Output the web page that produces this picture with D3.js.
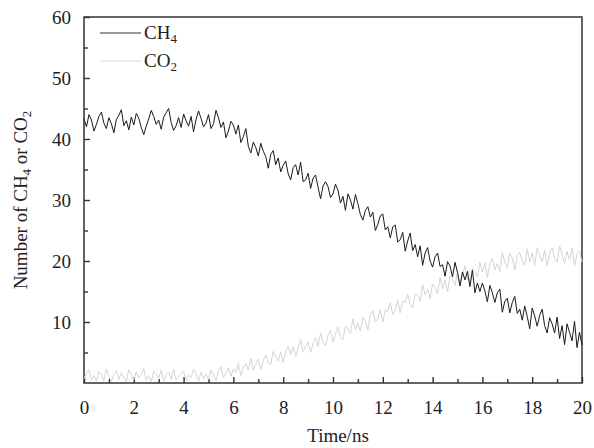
<!DOCTYPE html>
<html>
<head>
<meta charset="utf-8">
<script src="https://cdn.jsdelivr.net/npm/d3@7"></script>
<style>
  body { margin: 0; background: #fff; }
  text { font-family: "Liberation Serif", "Times New Roman", serif; fill: #222; }
</style>
</head>
<body>
<script>
// CH4 / CO2 number vs time, one value every 0.1 ns (0 .. 20 ns)
var step = 0.1;
var ch4 = [
  43.3, 42.0, 44.0, 43.1, 41.3, 42.4, 43.7, 44.4, 42.6, 41.7,
  43.5, 42.5, 41.0, 43.2, 43.9, 44.8, 42.2, 43.0, 41.5, 43.6,
  42.3, 44.2, 43.4, 41.9, 40.7, 42.1, 43.3, 44.7, 43.7, 42.4,
  43.1, 41.6, 43.6, 44.3, 45.0, 42.7, 41.4, 42.2, 43.5, 41.9,
  44.1, 43.0, 42.1, 43.7, 41.2, 43.2, 44.6, 43.4, 42.0, 42.6,
  44.0, 41.7, 42.5, 44.7, 43.5, 41.9, 42.8, 40.2, 41.3, 42.9,
  42.3, 40.8, 42.3, 39.4, 40.4, 41.7, 38.8, 37.7, 39.5, 38.6,
  37.2, 39.3, 38.0, 37.1, 35.2, 37.5, 38.1, 35.8, 36.9, 34.6,
  35.7, 36.4, 34.3, 33.3, 35.3, 35.8, 34.1, 36.2, 33.0, 33.3,
  34.4, 31.9, 33.6, 34.1, 32.1, 30.2, 32.3, 33.0, 32.2, 30.4,
  31.0, 32.6, 31.6, 29.5, 30.6, 28.3, 31.0, 30.0, 28.5, 30.9,
  29.4, 27.6, 26.7, 28.3, 28.9, 27.2, 28.0, 25.0, 26.0, 27.4,
  27.7, 25.1, 25.6, 23.8, 25.6, 25.9, 23.1, 23.5, 24.7, 21.6,
  23.3, 24.6, 21.7, 22.7, 20.7, 22.5, 19.3, 21.3, 22.2, 20.0,
  19.0, 20.7, 21.3, 19.1, 19.4, 17.5, 19.9, 19.2, 17.4, 19.8,
  18.1, 15.9, 18.2, 16.9, 18.3, 15.8, 18.5, 14.8, 16.4, 15.0,
  16.4, 15.1, 13.3, 16.0, 14.8, 13.2, 14.8, 15.4, 11.6, 13.4,
  13.9, 11.5, 13.2, 14.2, 11.4, 12.1, 10.3, 12.6, 10.9, 8.9,
  12.3, 11.0, 9.3, 11.1, 12.1, 9.4, 8.2, 10.7, 9.7, 8.2,
  10.8, 7.3, 9.4, 6.3, 9.7, 8.3, 6.9, 10.1, 5.8, 8.3,
  6.2
];
var co2 = [
  0.7, 1.6, 2.1, 0.5, 1.2, 0.3, 1.9, 1.4, 0.4, 2.3,
  1.1, 0.2, 1.5, 2.0, 0.6, 1.7, 0.8, 0.3, 2.2, 1.3,
  0.5, 1.8, 0.9, 1.4, 2.4, 0.4, 1.2, 0.2, 1.9, 1.5,
  0.8, 2.1, 0.3, 1.3, 1.8, 0.6, 2.3, 0.5, 1.1, 1.6,
  1.9, 0.4, 1.3, 0.9, 2.2, 1.5, 0.3, 1.8, 0.7, 1.4,
  0.6, 2.1, 1.3, 0.4, 1.9, 2.7, 0.9, 1.6, 2.5, 1.1,
  2.3, 1.7, 3.2, 1.2, 2.6, 3.2, 2.1, 4.0, 2.1, 3.1,
  3.9, 2.2, 3.7, 4.6, 3.3, 3.0, 5.2, 4.3, 3.6, 5.1,
  3.4, 5.2, 6.0, 4.6, 5.9, 4.4, 5.7, 7.1, 5.2, 6.0,
  6.7, 5.0, 6.5, 7.5, 6.0, 8.2, 6.7, 6.1, 7.8, 8.6,
  6.7, 8.1, 9.2, 7.5, 7.1, 9.3, 8.9, 8.1, 10.5, 8.8,
  9.8, 8.5, 10.8, 10.1, 8.7, 11.1, 11.9, 10.0, 10.6, 12.0,
  10.0, 12.0, 11.7, 13.2, 11.2, 11.9, 13.6, 11.5, 13.5, 13.2,
  14.5, 12.9, 12.3, 14.6, 14.4, 13.4, 16.1, 14.5, 15.4, 13.9,
  16.2, 15.6, 14.6, 17.3, 15.4, 16.9, 14.9, 17.6, 17.0, 16.0,
  18.2, 16.1, 17.7, 19.2, 17.1, 16.5, 18.9, 18.3, 17.4, 19.8,
  18.2, 19.7, 17.3, 19.6, 20.4, 18.5, 19.6, 18.2, 21.4, 19.8,
  18.9, 21.3, 20.5, 18.5, 21.0, 21.4, 20.0, 19.3, 22.0, 19.9,
  21.3, 19.3, 22.2, 20.9, 19.9, 21.8, 19.2, 21.3, 22.1, 20.4,
  19.8, 22.5, 21.1, 19.6, 21.6, 20.2, 22.1, 19.2, 21.2, 21.6,
  19.8
];
var xMajor = [0, 2, 4, 6, 8, 10, 12, 14, 16, 18, 20];
var xMinor = [1, 3, 5, 7, 9, 11, 13, 15, 17, 19];
var yMajor = [10, 20, 30, 40, 50, 60];
var yMinor = [5, 15, 25, 35, 45, 55];

var W = 594, H = 448;
var margin = { left: 84, right: 12, top: 17, bottom: 65 };
var serif = "'Liberation Serif', 'Times New Roman', serif";

var svg = d3.select("body").append("svg")
    .attr("width", W)
    .attr("height", H);

var x = d3.scaleLinear().domain([0, 20]).range([margin.left, W - margin.right]);
var y = d3.scaleLinear().domain([0, 60]).range([H - margin.bottom, margin.top]);

var axisColor = "#333";

// x axis, ticks point inward
svg.append("g")
    .attr("transform", "translate(0," + y(0) + ")")
    .call(d3.axisBottom(x).tickValues(xMajor).tickSize(-6).tickPadding(18).tickFormat(d3.format("d")));
svg.append("g")
    .attr("transform", "translate(0," + y(0) + ")")
    .call(d3.axisBottom(x).tickValues(xMinor).tickSize(-4).tickFormat(""));

// y axis
svg.append("g")
    .attr("transform", "translate(" + x(0) + ",0)")
    .call(d3.axisLeft(y).tickValues(yMajor).tickSize(-6).tickPadding(13).tickFormat(d3.format("d")));
svg.append("g")
    .attr("transform", "translate(" + x(0) + ",0)")
    .call(d3.axisLeft(y).tickValues(yMinor).tickSize(-4).tickFormat(""));

svg.selectAll("g").attr("font-family", serif);
svg.selectAll(".domain").remove();
svg.selectAll(".tick line").attr("stroke", axisColor).attr("stroke-width", 1.4);
svg.selectAll(".tick text")
    .attr("font-size", 19)
    .attr("fill", "#222");

// frame
svg.append("rect")
    .attr("x", x(0))
    .attr("y", y(60))
    .attr("width", x(20) - x(0))
    .attr("height", y(0) - y(60))
    .attr("fill", "none")
    .attr("stroke", axisColor)
    .attr("stroke-width", 1.5);

// lines
var line = d3.line()
    .x(function (d, i) { return x(i * step); })
    .y(function (d) { return y(d); });

svg.append("path")
    .datum(co2)
    .attr("d", line)
    .attr("fill", "none")
    .attr("stroke", "#d4d4d4")
    .attr("stroke-width", 1);

svg.append("path")
    .datum(ch4)
    .attr("d", line)
    .attr("fill", "none")
    .attr("stroke", "#1a1a1a")
    .attr("stroke-width", 1);

// legend
var legend = [
  { name: "CH", sub: "4", color: "#333", y: 33 },
  { name: "CO", sub: "2", color: "#d8d8d8", y: 61 }
];
legend.forEach(function (d) {
    svg.append("line")
        .attr("x1", 100).attr("x2", 141)
        .attr("y1", d.y).attr("y2", d.y)
        .attr("stroke", d.color)
        .attr("stroke-width", 1);
    var t = svg.append("text")
        .attr("x", 144)
        .attr("y", d.y + 6)
        .attr("font-size", 19);
    t.append("tspan").text(d.name);
    t.append("tspan").attr("font-size", 13).attr("dy", 4).text(d.sub);
});

// axis titles
svg.append("text")
    .attr("x", x(10) + 5)
    .attr("y", 442)
    .attr("text-anchor", "middle")
    .attr("font-size", 19)
    .text("Time/ns");

var yt = svg.append("text")
    .attr("transform", "translate(27,200) rotate(-90)")
    .attr("text-anchor", "middle")
    .attr("font-size", 19);
yt.append("tspan").text("Number of CH");
yt.append("tspan").attr("font-size", 13).attr("dy", 4).text("4");
yt.append("tspan").attr("dy", -4).text(" or CO");
yt.append("tspan").attr("font-size", 13).attr("dy", 4).text("2");
</script>
</body>
</html>
